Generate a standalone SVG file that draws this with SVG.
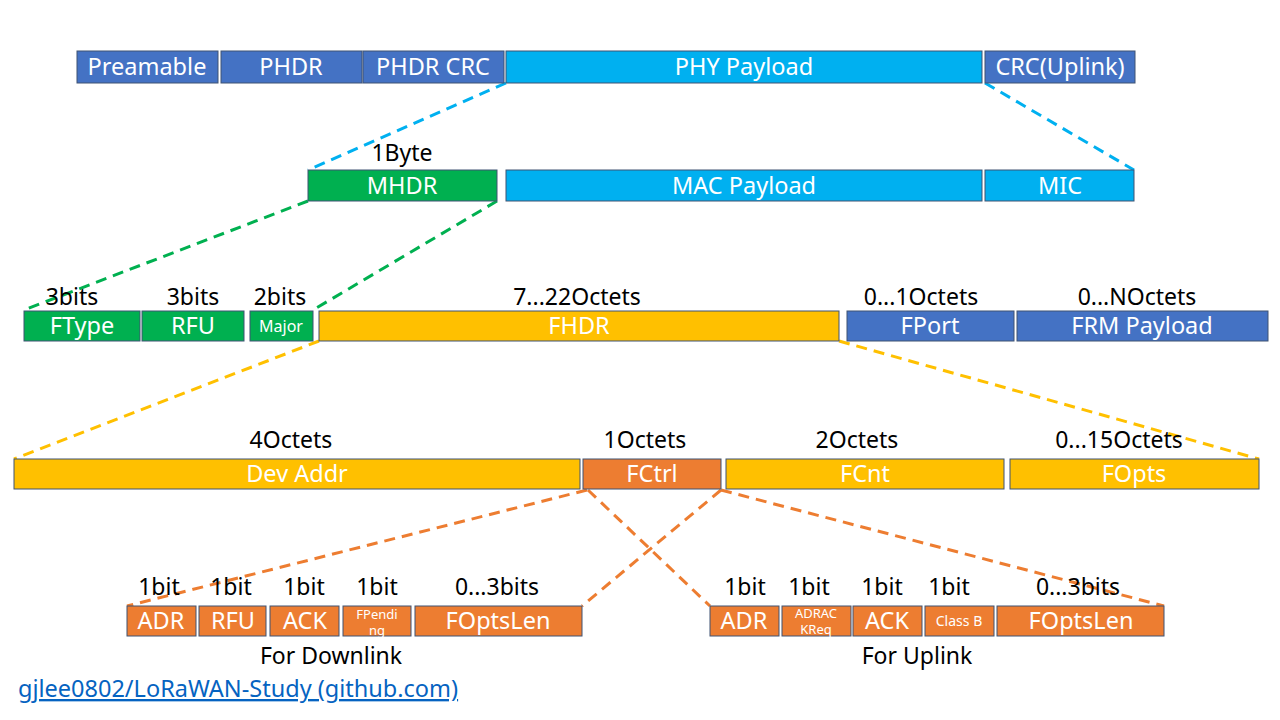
<svg xmlns="http://www.w3.org/2000/svg" width="1280" height="720" viewBox="0 0 1280 720">
<style>
text{font-family:"Noto Sans","Open Sans","DejaVu Sans",sans-serif;text-anchor:middle}
.bx{stroke:#3F5373;stroke-width:1}
.db{fill:#4472C4}.lb{fill:#00B0F0}.gr{fill:#00B050}.ye{fill:#FFC000}.or{fill:#ED7D31}
.w{fill:#fff;font-size:23.5px}
.k{fill:#000;font-size:23px}
.s{fill:#fff}
.d{fill:none;stroke-width:3;stroke-dasharray:11 7}
</style>
<rect width="1280" height="720" fill="#fff"/>
<g id="connectors">
<line class="d" stroke="#00B0F0" x1="506" y1="83" x2="308" y2="170"/>
<line class="d" stroke="#00B0F0" x1="985" y1="83" x2="1134" y2="170"/>
<line class="d" stroke="#00B050" x1="308" y1="201" x2="24" y2="310"/>
<line class="d" stroke="#00B050" x1="497" y1="201" x2="313" y2="310"/>
<line class="d" stroke="#FFC000" x1="319" y1="341" x2="14" y2="459"/>
<line class="d" stroke="#FFC000" x1="839" y1="341" x2="1259" y2="459"/>
<line class="d" stroke="#ED7D31" x1="587" y1="490" x2="127" y2="606"/>
<line class="d" stroke="#ED7D31" x1="588" y1="490" x2="710" y2="606"/>
<line class="d" stroke="#ED7D31" x1="721" y1="490" x2="582" y2="606"/>
<line class="d" stroke="#ED7D31" x1="721" y1="490" x2="1164" y2="606"/>
</g>
<g id="preamble"><rect class="bx db" x="77" y="51" width="141" height="32"/><text class="w" x="147" y="75">Preamable</text></g>
<g id="phdr"><rect class="bx db" x="221" y="51" width="141" height="32"/><text class="w" x="291" y="75">PHDR</text></g>
<g id="phdrcrc"><rect class="bx db" x="363" y="51" width="141" height="32"/><text class="w" x="433" y="75">PHDR CRC</text></g>
<g id="phypayload"><rect class="bx lb" x="506" y="51" width="476" height="32"/><text class="w" x="744" y="75">PHY Payload</text></g>
<g id="crc"><rect class="bx db" x="985" y="51" width="150" height="32"/><text class="w" x="1060" y="75">CRC(Uplink)</text></g>

<text class="k" x="402" y="161">1Byte</text>
<g id="mhdr"><rect class="bx gr" x="308" y="170" width="189" height="31"/><text class="w" x="402" y="194">MHDR</text></g>
<g id="macpayload"><rect class="bx lb" x="506" y="170" width="476" height="31"/><text class="w" x="744" y="194">MAC Payload</text></g>
<g id="mic"><rect class="bx lb" x="985" y="170" width="149" height="31"/><text class="w" x="1060" y="194">MIC</text></g>

<text class="k" x="72" y="305">3bits</text>
<text class="k" x="193" y="305">3bits</text>
<text class="k" x="280" y="305">2bits</text>
<text class="k" x="577" y="305">7...22Octets</text>
<text class="k" x="921" y="305">0...1Octets</text>
<text class="k" x="1137" y="305">0...NOctets</text>
<g id="ftype"><rect class="bx gr" x="24" y="311" width="116" height="30"/><text class="w" x="82" y="334">FType</text></g>
<g id="rfu"><rect class="bx gr" x="142" y="311" width="102" height="30"/><text class="w" x="193" y="334">RFU</text></g>
<g id="major"><rect class="bx gr" x="250" y="311" width="63" height="30"/><text class="s" x="281" y="332" font-size="16">Major</text></g>
<g id="fhdr"><rect class="bx ye" x="319" y="311" width="520" height="30"/><text class="w" x="579" y="334">FHDR</text></g>
<g id="fport"><rect class="bx db" x="847" y="311" width="167" height="30"/><text class="w" x="930" y="334">FPort</text></g>
<g id="frmpayload"><rect class="bx db" x="1017" y="311" width="251" height="30"/><text class="w" x="1142" y="334">FRM Payload</text></g>

<text class="k" x="291" y="448">4Octets</text>
<text class="k" x="645" y="448">1Octets</text>
<text class="k" x="857" y="448">2Octets</text>
<text class="k" x="1119" y="448">0...15Octets</text>
<g id="devaddr"><rect class="bx ye" x="14" y="459" width="566" height="30"/><text class="w" x="297" y="482">Dev Addr</text></g>
<g id="fctrl"><rect class="bx or" x="583" y="459" width="138" height="30"/><text class="w" x="652" y="482">FCtrl</text></g>
<g id="fcnt"><rect class="bx ye" x="726" y="459" width="278" height="30"/><text class="w" x="865" y="482">FCnt</text></g>
<g id="fopts"><rect class="bx ye" x="1010" y="459" width="249" height="30"/><text class="w" x="1134" y="482">FOpts</text></g>

<text class="k" x="159" y="595">1bit</text>
<text class="k" x="231" y="595">1bit</text>
<text class="k" x="304" y="595">1bit</text>
<text class="k" x="377" y="595">1bit</text>
<text class="k" x="497" y="595">0...3bits</text>
<g id="dl-adr"><rect class="bx or" x="127" y="606" width="69" height="30"/><text class="w" x="161" y="629">ADR</text></g>
<g id="dl-rfu"><rect class="bx or" x="199" y="606" width="67" height="30"/><text class="w" x="233" y="629">RFU</text></g>
<g id="dl-ack"><rect class="bx or" x="270" y="606" width="69" height="30"/><text class="w" x="305" y="629">ACK</text></g>
<g id="dl-fpending"><rect class="bx or" x="343" y="606" width="68" height="30"/><text class="s" x="377" y="619" font-size="13">FPendi</text><text class="s" x="377" y="635" font-size="13">ng</text></g>
<g id="dl-foptslen"><rect class="bx or" x="415" y="606" width="167" height="30"/><text class="w" x="498" y="629">FOptsLen</text></g>
<text class="k" x="331" y="664">For Downlink</text>

<text class="k" x="745" y="595">1bit</text>
<text class="k" x="809" y="595">1bit</text>
<text class="k" x="882" y="595">1bit</text>
<text class="k" x="949" y="595">1bit</text>
<text class="k" x="1078" y="595">0...3bits</text>
<g id="ul-adr"><rect class="bx or" x="710" y="606" width="69" height="30"/><text class="w" x="744" y="629">ADR</text></g>
<g id="ul-adrackreq"><rect class="bx or" x="782" y="606" width="69" height="30"/><text class="s" x="816" y="618" font-size="13">ADRAC</text><text class="s" x="816" y="634" font-size="13">KReq</text></g>
<g id="ul-ack"><rect class="bx or" x="853" y="606" width="69" height="30"/><text class="w" x="887" y="629">ACK</text></g>
<g id="ul-classb"><rect class="bx or" x="925" y="606" width="69" height="30"/><text class="s" x="959" y="626" font-size="14">Class B</text></g>
<g id="ul-foptslen"><rect class="bx or" x="997" y="606" width="167" height="30"/><text class="w" x="1081" y="629">FOptsLen</text></g>
<text class="k" x="917" y="664">For Uplink</text>

<text x="18" y="697" style="text-anchor:start" font-size="23.5" fill="#0563C1" text-decoration="underline">gjlee0802/LoRaWAN-Study (github.com)</text>
</svg>
